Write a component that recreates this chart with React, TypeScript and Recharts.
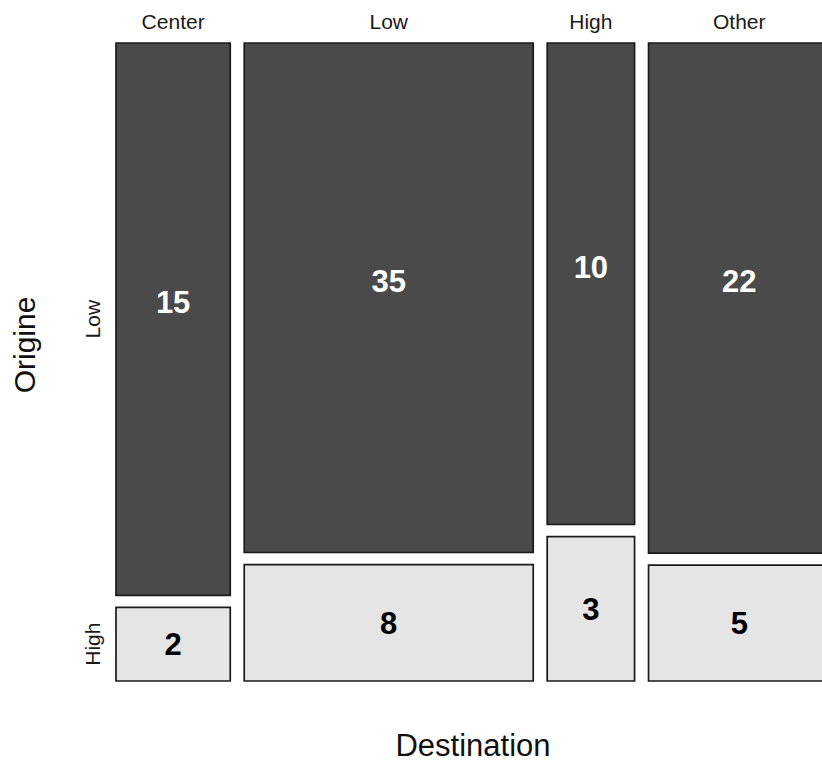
import React from 'react';
import { ComposedChart, XAxis, YAxis, ReferenceArea, Scatter } from 'recharts';

// ---- data ----
const destinations = ['Center', 'Low', 'High', 'Other'];
const origins = ['Low', 'High'];
const lowOrigin = [15, 35, 10, 22];
const highOrigin = [2, 8, 3, 5];

// ---- style constants ----
const FONT = '"Liberation Sans", Arial, Helvetica, sans-serif';
const DARK = '#4a4a4a';
const LIGHT = '#e5e5e5';
const EDGE = '#1a1a1a';
const GAP_X = 2.08; // gap between columns, in count units
const GAP_Y = 0.0192; // gap between rows, in proportion units

const totals = destinations.map((_, i) => lowOrigin[i] + highOrigin[i]);
const columns: { name: string; x1: number; x2: number; mid: number; split: number }[] = [];
let cursor = 0;
destinations.forEach((name, i) => {
  const x1 = cursor;
  const x2 = cursor + totals[i];
  columns.push({ name, x1, x2, mid: (x1 + x2) / 2, split: highOrigin[i] / totals[i] });
  cursor = x2 + GAP_X;
});
const xMax = cursor - GAP_X;
const yMax = 1 + GAP_Y;

const cells = columns.flatMap((c, i) => [
  { key: `low-${i}`, origin: origins[0], x1: c.x1, x2: c.x2, y1: c.split + GAP_Y, y2: yMax, value: lowOrigin[i] },
  { key: `high-${i}`, origin: origins[1], x1: c.x1, x2: c.x2, y1: 0, y2: c.split, value: highOrigin[i] },
]);

const xTicks = columns.map((c) => c.mid);
const yTicks = [(columns[0].split + GAP_Y + yMax) / 2, columns[0].split / 2];

const CellLabel = (props: any) => {
  const { viewBox, text, color, shift } = props;
  if (!viewBox) return null;
  const { x, y, width, height } = viewBox;
  return (
    <text
      x={x + width / 2}
      y={y + height / 2 + shift + 11}
      textAnchor="middle"
      fill={color}
      fontFamily={FONT}
      fontSize={31}
      fontWeight="bold"
    >
      {text}
    </text>
  );
};

const TopTick = (props: any) => {
  const { x, y, payload, index } = props;
  let idx = xTicks.findIndex((t) => Math.abs(t - payload.value) < 1e-6);
  if (idx < 0) idx = index;
  return (
    <text x={x} y={y} textAnchor="middle" fill="#1a1a1a" fontFamily={FONT} fontSize={21}>
      {destinations[idx]}
    </text>
  );
};

const LeftTick = (props: any) => {
  const { x, y, payload, index } = props;
  let idx = yTicks.findIndex((t) => Math.abs(t - payload.value) < 1e-6);
  if (idx < 0) idx = index;
  return (
    <text
      x={x}
      y={y}
      transform={`rotate(-90, ${x}, ${y})`}
      textAnchor="middle"
      fill="#1a1a1a"
      fontFamily={FONT}
      fontSize={21}
    >
      {origins[idx]}
    </text>
  );
};

const OrigineTitle = (props: any) => {
  const vb = props.viewBox;
  if (!vb) return null;
  const cx = vb.x + 35;
  const cy = vb.y + vb.height / 2 - 17;
  return (
    <text
      x={cx}
      y={cy}
      transform={`rotate(-90, ${cx}, ${cy})`}
      textAnchor="middle"
      fill="#111"
      fontFamily={FONT}
      fontSize={30}
    >
      Origine
    </text>
  );
};

const DestinationTitle = (props: any) => {
  const vb = props.viewBox;
  if (!vb) return null;
  return (
    <text
      x={vb.x + vb.width / 2}
      y={vb.y + 75}
      textAnchor="middle"
      fill="#111"
      fontFamily={FONT}
      fontSize={31}
    >
      Destination
    </text>
  );
};

export default function App() {
  return (
    <div
      style={{
        position: 'fixed',
        left: 0,
        top: 0,
        width: 822,
        height: 762,
        overflow: 'hidden',
        background: '#fff',
      }}
    >
      <ComposedChart width={850} height={762} margin={{ top: 0, right: 20, bottom: 0, left: 0 }} data={columns}>
        <XAxis
          xAxisId="top"
          orientation="top"
          type="number"
          dataKey="mid"
          domain={[0, xMax]}
          ticks={xTicks}
          interval={0}
          height={43}
          axisLine={false}
          tickLine={false}
          tickSize={0}
          tickMargin={14}
          tick={<TopTick />}
          allowDataOverflow
        />
        <XAxis
          xAxisId="bottom"
          orientation="bottom"
          type="number"
          dataKey="mid"
          domain={[0, xMax]}
          height={81}
          axisLine={false}
          tickLine={false}
          tick={false}
          allowDataOverflow
          label={<DestinationTitle />}
        />
        <YAxis
          yAxisId="main"
          type="number"
          dataKey="split"
          domain={[0, yMax]}
          ticks={yTicks}
          interval={0}
          width={116}
          axisLine={false}
          tickLine={false}
          tickSize={0}
          tickMargin={16}
          tick={<LeftTick />}
          allowDataOverflow
          label={<OrigineTitle />}
        />
        <Scatter
          xAxisId="top"
          yAxisId="main"
          dataKey="split"
          fill="none"
          shape={() => <g />}
          isAnimationActive={false}
        />
        {cells.map((c) => (
          <ReferenceArea
            key={c.key}
            xAxisId="top"
            yAxisId="main"
            x1={c.x1}
            x2={c.x2}
            y1={c.y1}
            y2={c.y2}
            fill={c.origin === 'Low' ? DARK : LIGHT}
            fillOpacity={1}
            stroke={EDGE}
            strokeWidth={1.7}
            ifOverflow="visible"
            label={
              <CellLabel
                text={String(c.value)}
                color={c.origin === 'Low' ? '#ffffff' : '#000000'}
                shift={c.origin === 'Low' ? -17 : 0}
              />
            }
          />
        ))}
      </ComposedChart>
    </div>
  );
}
